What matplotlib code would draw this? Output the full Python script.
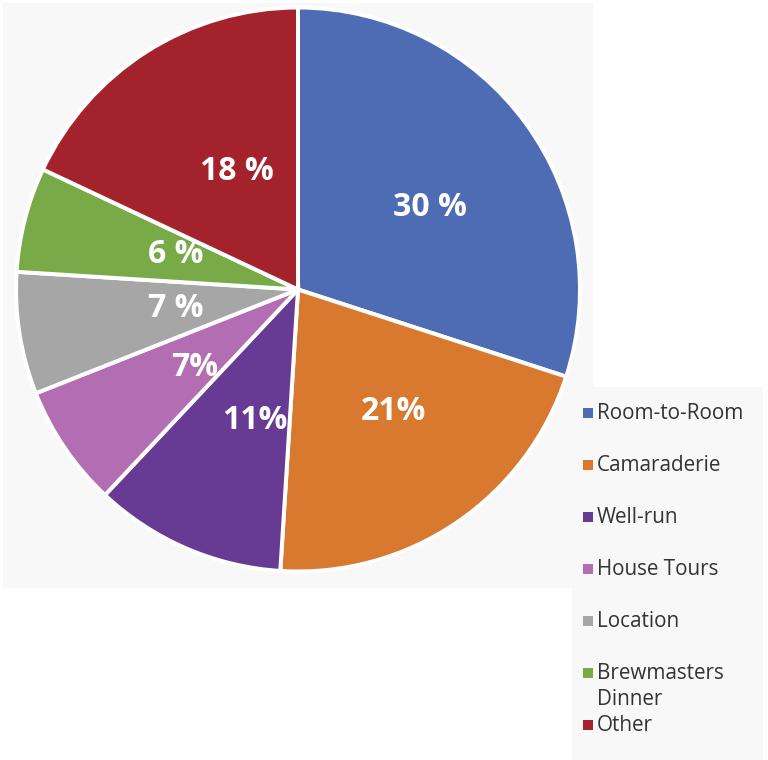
import numpy as np
import matplotlib.pyplot as plt
from matplotlib.patches import Rectangle

plt.rcParams['font.family'] = ['Open Sans', 'DejaVu Sans']

# survey answers (share of responses, %)
categories = ["Room-to-Room", "Camaraderie", "Well-run", "House Tours",
              "Location", "Brewmasters\nDinner", "Other"]
shares = [30, 21, 11, 7, 7, 6, 18]
pct_labels = ["30 %", "21%", "11%", "7%", "7 %", "6 %", "18 %"]
colors = ["#4E6CB3", "#D9782F", "#673A94", "#B36DB3",
          "#A6A6A6", "#78AB48", "#A3222B"]

# where each percentage sits inside its wedge
label_radius = [0.55, 0.55, 0.49, 0.46, 0.44, 0.45, 0.47]
label_shift = [-4, 4, 5, 3, 0, -1.5, -5]   # degrees

W, H = 768, 760
fig = plt.figure(figsize=(W / 96, H / 96), dpi=96)
fig.patch.set_facecolor("white")

# light panels behind the pie and the legend (pixel coordinates)
bg = fig.add_axes([0, 0, 1, 1], zorder=0)
bg.set_xlim(0, W)
bg.set_ylim(H, 0)
bg.axis("off")
bg.add_patch(Rectangle((3, 3), 590, 585, color="#F8F8F8", lw=0))
bg.add_patch(Rectangle((572, 387), 191, 373, color="#F8F8F8", lw=0))

# pie: centre (298, 289.5), radius 282 px
cx, cy, r = 298, 289.5, 282
ax = fig.add_axes([(cx - r) / W, (H - cy - r) / H, 2 * r / W, 2 * r / H], zorder=1)
ax.set_facecolor("none")
wedges, _ = ax.pie(shares, colors=colors, startangle=90, counterclock=False,
                   radius=1, wedgeprops=dict(edgecolor="white", linewidth=3))
ax.set_xlim(-1, 1)
ax.set_ylim(-1, 1)
ax.set_aspect("equal")
ax.axis("off")

for w, txt, rr, dt in zip(wedges, pct_labels, label_radius, label_shift):
    mid = np.deg2rad((w.theta1 + w.theta2) / 2 + dt)
    ax.text(rr * np.cos(mid), rr * np.sin(mid), txt, ha="center", va="center",
            color="white", fontsize=24, fontweight="bold")

# legend drawn by hand so the wrapped label overflows like the original
top, step = 413, 52
for i, (name, c) in enumerate(zip(categories, colors)):
    y = top + i * step
    bg.scatter(588, y, marker="s", s=60, color=c, linewidths=0)
    bg.text(597, y - 10, name, ha="left", va="top", fontsize=15.5,
            color="#333333", linespacing=1.3)

fig.savefig("out.png", dpi=96, facecolor=fig.get_facecolor())
